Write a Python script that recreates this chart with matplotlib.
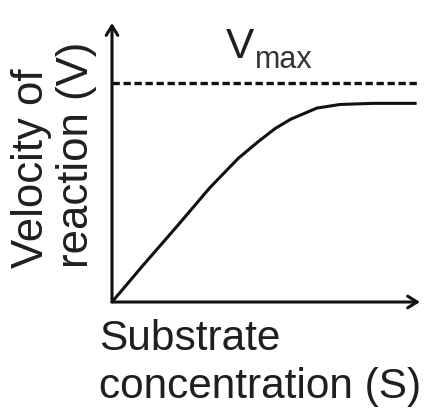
import matplotlib
matplotlib.use("Agg")
import matplotlib.pyplot as plt

# Data (arbitrary units)
S = [0.0, 1.02, 2.10, 3.18, 4.10, 4.75, 5.30, 5.80, 6.65, 7.40, 8.47, 9.89]
v = [0.0, 1.33, 2.70, 4.10, 5.15, 5.75, 6.22, 6.55, 6.95, 7.08, 7.12, 7.12]
vmax = 7.85
x_label_lines = ["Substrate", "concentration (S)"]
y_label_lines = ["Velocity of", "reaction (V)"]

W, H = 433, 412
fig = plt.figure(figsize=(W / 100, H / 100), dpi=100)
plt.rcParams['font.family'] = ['Liberation Sans', 'DejaVu Sans']

ox, oy = 112, 302   # origin in pixels
tx, ty = 420, 23    # arrow tips
ax = fig.add_axes([ox / W, (H - oy) / H, (tx - ox) / W, (oy - ty) / H])
ax.set_xlim(0, 10)
ax.set_ylim(0, 10)
ax.axis('off')

lw = 2.2
ax.plot(S, v, color='#111111', lw=lw, solid_capstyle='butt', solid_joinstyle='round', clip_on=False)
ax.plot([0, 10], [vmax, vmax], color='#111111', lw=2.4, dashes=(2.2, 1.1), clip_on=False)

arrow = dict(arrowstyle='->,head_length=0.68,head_width=0.42', lw=lw, color='#111111',
             shrinkA=0, shrinkB=0)
ax.annotate('', xy=(0, 10), xytext=(0, 0), xycoords='data', arrowprops=arrow, annotation_clip=False)
ax.annotate('', xy=(10, 0), xytext=(0, 0), xycoords='data', arrowprops=arrow, annotation_clip=False)

fs = 30.5
tc = '#1f1f1f'
fig.text(99 / W, (H - 350) / H, x_label_lines[0], fontsize=fs, color=tc, ha='left', va='baseline')
fig.text(99 / W, (H - 398) / H, x_label_lines[1], fontsize=fs, color=tc, ha='left', va='baseline')

fig.text(43 / W, (H - 268) / H, y_label_lines[0], fontsize=31.5, color=tc, rotation=90,
         rotation_mode='anchor', ha='left', va='baseline')
fig.text(88 / W, (H - 268) / H, y_label_lines[1], fontsize=31.5, color=tc, rotation=90,
         rotation_mode='anchor', ha='left', va='baseline')

fig.text(226 / W, (H - 58) / H, 'V', fontsize=fs, color=tc, ha='left', va='baseline')
fig.text(255 / W, (H - 68) / H, 'max', fontsize=22, color='#333333', ha='left', va='baseline')

fig.savefig('out.png', dpi=100)
